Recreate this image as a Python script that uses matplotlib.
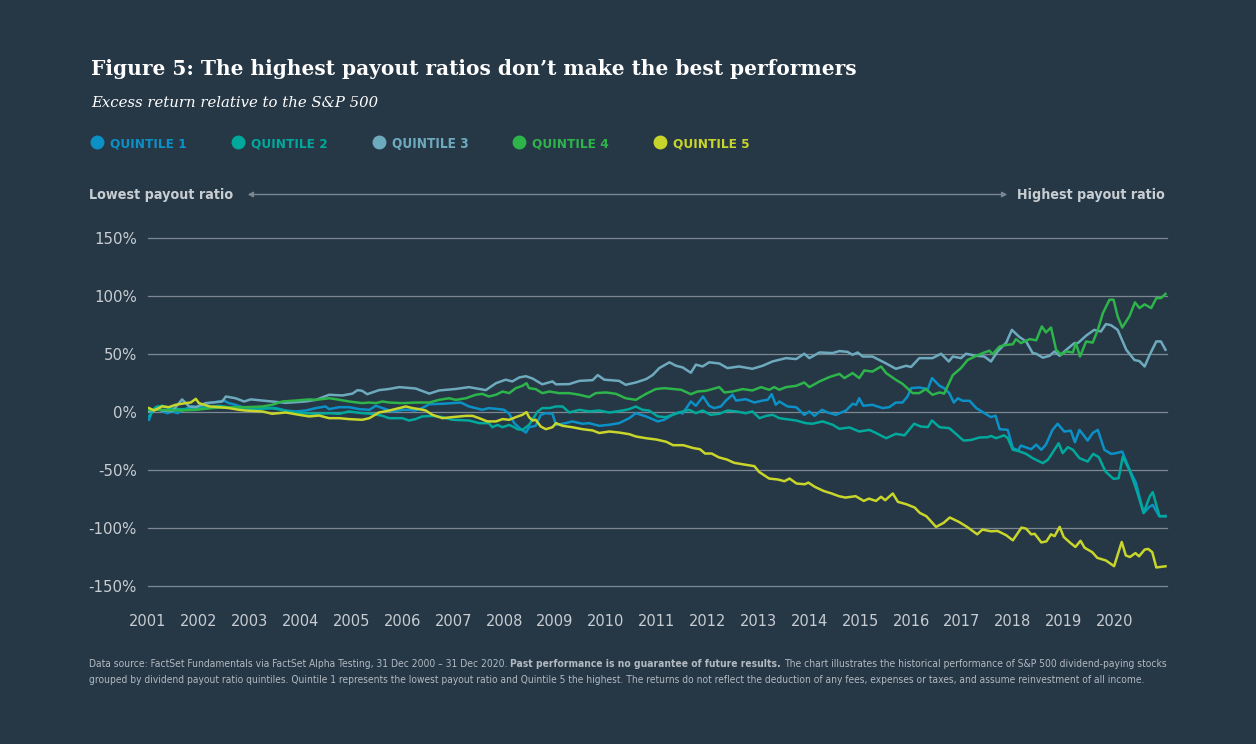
import os
import matplotlib
matplotlib.use("Agg")
import matplotlib.pyplot as plt
from matplotlib import font_manager
from matplotlib.font_manager import FontProperties
from matplotlib.patches import FancyArrowPatch
from matplotlib.lines import Line2D

# ---------------- data (excess return vs S&P 500, %) ----------------
q1_t = [2001.02,2001.08,2001.18,2001.28,2001.38,2001.48,2001.58,2001.67,2001.77,2001.87,2002.0,2002.2,2002.4,2002.49,2002.59,2002.72,2002.86,2002.99,2003.25,2003.51,2003.71,2003.9,2004.1,2004.3,2004.49,2004.56,2004.76,2004.95,2005.15,2005.35,2005.48,2005.61,2005.81,2006.0,2006.13,2006.26,2006.39,2006.53,2006.79,2006.98,2007.15,2007.31,2007.44,2007.57,2007.7,2007.9,2008.0,2008.1,2008.2,2008.33,2008.43,2008.49,2008.62,2008.72,2008.82,2008.95,2009.02,2009.21,2009.34,2009.54,2009.67,2009.87,2010.07,2010.26,2010.46,2010.59,2010.79,2011.02,2011.15,2011.31,2011.44,2011.51,2011.67,2011.77,2011.91,2012.03,2012.13,2012.26,2012.36,2012.49,2012.56,2012.75,2012.92,2013.08,2013.18,2013.26,2013.34,2013.41,2013.57,2013.74,2013.9,2014.0,2014.1,2014.25,2014.36,2014.52,2014.72,2014.85,2014.92,2014.98,2015.06,2015.24,2015.44,2015.57,2015.7,2015.83,2015.93,2016.0,2016.16,2016.33,2016.41,2016.56,2016.65,2016.75,2016.84,2016.92,2017.01,2017.15,2017.28,2017.41,2017.57,2017.66,2017.74,2017.9,2018.0,2018.1,2018.16,2018.36,2018.46,2018.56,2018.65,2018.78,2018.88,2019.01,2019.14,2019.22,2019.31,2019.47,2019.57,2019.67,2019.8,2019.93,2020.03,2020.15,2020.28,2020.42,2020.57,2020.69,2020.75,2020.88,2021.0]
q1_v = [-6.6,0.6,4.9,0.6,-0.9,0.6,-0.9,1.4,3.5,4.9,4.3,7.8,9.2,10.0,7.8,6.3,4.3,3.5,3.5,3.5,1.4,0.6,1.4,3.5,4.9,2.6,4.3,4.3,2.6,2.0,5.5,3.5,0.6,2.0,2.0,1.4,3.5,6.9,7.2,7.8,8.3,4.9,3.5,2.0,3.5,2.6,2.0,-1.4,-9.5,-14.7,-17.6,-13.0,-11.8,-2.3,-0.9,-1.4,-11.0,-9.5,-8.0,-10.0,-9.5,-11.8,-10.9,-9.5,-5.2,-0.9,-3.7,-8.0,-6.5,-2.3,0.0,-1.2,9.2,5.5,13.5,5.5,3.5,4.9,10.0,15.0,10.0,11.2,8.3,10.0,10.6,15.5,6.3,9.2,4.9,4.3,-2.3,0.6,-3.2,2.0,-0.3,-2.3,1.4,7.2,6.3,12.0,5.5,6.3,3.5,4.3,8.3,8.3,13.5,20.7,21.3,19.9,29.4,22.7,20.7,16.4,8.3,12.0,9.8,9.8,3.5,0.0,-4.3,-3.0,-14.7,-15.3,-31.0,-33.0,-28.8,-32.0,-28.0,-32.5,-28.0,-15.3,-10.0,-16.7,-16.0,-26.0,-15.3,-24.5,-18.0,-15.3,-32.5,-36.0,-35.4,-34.0,-48.3,-61.0,-87.0,-81.5,-80.0,-90.0,-89.5]

q2_t = [2001.02,2001.15,2001.28,2001.41,2001.61,2001.81,2002.0,2002.2,2002.4,2002.59,2002.79,2003.12,2003.44,2003.77,2004.03,2004.3,2004.56,2004.76,2004.95,2005.21,2005.41,2005.61,2005.74,2006.0,2006.13,2006.26,2006.39,2006.59,2006.79,2006.98,2007.31,2007.51,2007.7,2007.77,2007.87,2007.97,2008.1,2008.2,2008.26,2008.36,2008.49,2008.66,2008.75,2008.89,2009.02,2009.15,2009.28,2009.48,2009.67,2009.87,2010.07,2010.33,2010.46,2010.59,2010.72,2010.85,2011.02,2011.18,2011.31,2011.51,2011.64,2011.77,2011.9,2012.06,2012.23,2012.39,2012.56,2012.75,2012.88,2013.02,2013.15,2013.28,2013.41,2013.54,2013.74,2013.93,2014.06,2014.26,2014.46,2014.59,2014.79,2014.98,2015.18,2015.31,2015.51,2015.7,2015.87,2016.06,2016.19,2016.33,2016.41,2016.56,2016.75,2016.88,2017.03,2017.18,2017.34,2017.51,2017.57,2017.67,2017.83,2017.9,2018.0,2018.1,2018.26,2018.39,2018.59,2018.69,2018.78,2018.9,2018.98,2019.08,2019.18,2019.31,2019.47,2019.58,2019.69,2019.82,2019.98,2020.08,2020.16,2020.29,2020.42,2020.57,2020.69,2020.75,2020.88,2021.0]
q2_v = [-3.7,4.3,5.5,3.5,2.6,2.6,3.5,4.3,5.5,4.3,3.5,2.6,3.5,0.6,-0.9,-1.4,-0.9,-1.4,0.6,-0.9,-1.4,-3.2,-5.2,-5.2,-7.2,-6.0,-3.7,-3.2,-4.3,-6.6,-7.2,-9.5,-9.5,-13.0,-11.0,-13.0,-11.0,-13.0,-14.7,-15.3,-11.0,0.6,3.5,3.5,4.9,4.9,-0.3,2.0,0.6,1.4,-0.3,1.4,2.6,4.9,2.0,1.4,-3.7,-4.3,-2.3,0.6,2.0,-0.9,1.4,-2.3,-1.4,1.4,0.6,-0.9,0.6,-5.2,-3.2,-2.3,-5.2,-6.0,-7.2,-9.5,-10.0,-8.0,-10.9,-14.4,-13.2,-16.7,-15.3,-18.0,-22.5,-18.7,-20.0,-10.0,-12.4,-12.9,-7.2,-13.0,-13.8,-18.7,-24.5,-24.0,-21.9,-21.6,-20.5,-22.5,-20.0,-22.5,-32.5,-33.4,-36.0,-39.7,-44.0,-41.0,-35.0,-26.8,-35.4,-30.2,-32.5,-39.7,-42.6,-36.0,-38.9,-51.2,-57.6,-57.0,-38.3,-49.8,-65.6,-87.0,-72.8,-69.0,-89.5,-90.0]

q3_t = [2001.02,2001.15,2001.28,2001.48,2001.67,2001.81,2001.94,2002.13,2002.33,2002.46,2002.53,2002.72,2002.89,2003.02,2003.25,2003.44,2003.71,2003.9,2004.1,2004.3,2004.56,2004.82,2005.02,2005.12,2005.21,2005.31,2005.54,2005.74,2005.94,2006.26,2006.53,2006.72,2007.05,2007.31,2007.64,2007.84,2008.03,2008.16,2008.3,2008.43,2008.56,2008.75,2008.95,2009.02,2009.28,2009.48,2009.74,2009.84,2009.97,2010.26,2010.39,2010.59,2010.79,2010.92,2011.05,2011.25,2011.38,2011.51,2011.67,2011.77,2011.9,2012.03,2012.23,2012.39,2012.62,2012.88,2013.08,2013.28,2013.54,2013.74,2013.9,2014.0,2014.2,2014.46,2014.59,2014.75,2014.85,2014.95,2015.05,2015.24,2015.51,2015.7,2015.9,2016.0,2016.16,2016.42,2016.59,2016.74,2016.82,2016.98,2017.08,2017.28,2017.44,2017.57,2017.7,2017.87,2017.98,2018.13,2018.26,2018.39,2018.46,2018.59,2018.72,2018.82,2018.92,2019.05,2019.21,2019.28,2019.44,2019.6,2019.73,2019.83,2019.93,2020.06,2020.23,2020.39,2020.49,2020.59,2020.69,2020.82,2020.91,2021.0]
q3_v = [0.6,2.6,1.4,0.9,11.0,4.9,4.3,7.8,8.6,9.2,13.5,12.0,9.2,11.0,10.0,9.2,8.0,8.6,9.2,10.6,15.0,14.4,16.0,19.0,18.4,15.5,19.0,20.0,21.6,20.4,16.0,18.7,20.0,21.6,19.0,25.0,28.0,26.5,30.0,31.0,29.0,24.0,26.5,24.0,24.2,27.0,27.6,32.0,28.0,27.0,23.6,25.6,28.5,32.0,38.0,43.0,40.0,38.6,34.0,41.0,39.4,43.0,42.0,38.0,39.4,37.4,40.0,43.8,46.6,45.8,50.4,46.6,51.5,51.0,52.7,52.0,49.5,51.5,48.0,48.0,42.0,37.4,40.0,39.0,46.6,46.6,50.4,43.7,48.0,46.6,50.4,48.6,48.0,43.7,52.4,60.0,71.0,64.8,61.0,51.0,50.4,47.0,48.6,52.4,48.6,53.8,59.6,59.6,66.0,71.0,69.6,76.0,75.0,71.0,53.8,45.0,44.0,39.4,49.5,61.0,61.0,53.8]

q4_t = [2001.02,2001.28,2001.61,2001.94,2002.26,2002.59,2002.92,2003.25,2003.44,2003.64,2003.9,2004.17,2004.3,2004.56,2004.69,2004.95,2005.21,2005.35,2005.48,2005.61,2005.74,2006.0,2006.26,2006.53,2006.72,2006.92,2007.05,2007.25,2007.44,2007.57,2007.7,2007.84,2007.97,2008.1,2008.23,2008.36,2008.44,2008.49,2008.62,2008.75,2008.89,2009.08,2009.28,2009.48,2009.67,2009.8,2010.0,2010.2,2010.39,2010.59,2010.79,2010.98,2011.15,2011.48,2011.67,2011.8,2011.97,2012.23,2012.33,2012.49,2012.69,2012.88,2013.05,2013.21,2013.31,2013.41,2013.54,2013.74,2013.9,2014.0,2014.2,2014.39,2014.59,2014.69,2014.85,2014.98,2015.08,2015.24,2015.41,2015.51,2015.7,2015.83,2016.03,2016.16,2016.29,2016.42,2016.56,2016.65,2016.82,2016.98,2017.11,2017.28,2017.44,2017.54,2017.6,2017.74,2017.87,2018.0,2018.06,2018.16,2018.33,2018.46,2018.57,2018.65,2018.75,2018.85,2018.95,2019.05,2019.18,2019.24,2019.32,2019.44,2019.57,2019.67,2019.77,2019.9,2019.98,2020.06,2020.15,2020.29,2020.4,2020.49,2020.59,2020.72,2020.82,2020.91,2021.0]
q4_v = [2.0,2.0,1.4,2.0,3.5,4.3,4.3,4.9,6.3,9.2,10.0,11.0,10.6,12.0,11.2,9.2,7.8,8.3,7.8,9.2,8.3,7.8,8.3,8.3,10.6,12.0,10.6,12.0,15.0,15.8,13.5,15.0,17.8,16.4,20.7,22.7,25.0,20.7,19.9,16.4,17.8,16.4,16.4,15.0,13.0,16.4,17.0,15.8,12.0,10.6,15.8,19.9,20.7,19.3,15.5,17.8,18.4,21.6,17.0,17.8,19.9,18.7,21.6,19.3,21.6,19.3,21.6,22.7,25.6,21.6,26.5,30.2,33.0,29.4,33.7,29.4,36.0,35.0,39.4,33.7,27.9,24.5,16.4,16.4,19.9,15.0,17.0,16.0,32.0,38.0,45.0,48.6,51.5,53.0,50.0,56.7,58.0,58.6,63.0,59.6,63.0,62.0,74.0,68.8,73.0,53.8,49.5,52.4,51.5,59.6,48.0,61.0,60.0,71.0,85.5,97.0,97.0,82.6,73.0,82.6,94.7,89.8,93.0,89.8,98.4,98.4,102.0]

q5_t = [2001.02,2001.12,2001.28,2001.41,2001.54,2001.74,2001.84,2001.94,2002.0,2002.2,2002.4,2002.59,2002.79,2002.92,2003.25,2003.44,2003.71,2003.97,2004.17,2004.36,2004.56,2004.76,2004.95,2005.21,2005.35,2005.54,2005.74,2005.94,2006.07,2006.2,2006.33,2006.46,2006.59,2006.79,2006.98,2007.25,2007.38,2007.51,2007.67,2007.84,2007.97,2008.1,2008.23,2008.36,2008.44,2008.49,2008.56,2008.62,2008.72,2008.82,2008.95,2009.02,2009.15,2009.34,2009.54,2009.74,2009.87,2010.07,2010.26,2010.46,2010.59,2010.79,2010.99,2011.19,2011.32,2011.52,2011.72,2011.85,2011.95,2012.08,2012.22,2012.38,2012.52,2012.72,2012.92,2013.01,2013.21,2013.38,2013.51,2013.61,2013.75,2013.91,2013.98,2014.11,2014.28,2014.44,2014.58,2014.71,2014.91,2015.07,2015.17,2015.31,2015.41,2015.49,2015.64,2015.74,2015.91,2016.07,2016.17,2016.3,2016.49,2016.64,2016.76,2016.94,2017.1,2017.3,2017.4,2017.57,2017.7,2017.87,2018.0,2018.17,2018.26,2018.36,2018.43,2018.56,2018.66,2018.75,2018.82,2018.92,2019.0,2019.13,2019.23,2019.33,2019.41,2019.56,2019.66,2019.83,2019.99,2020.14,2020.22,2020.3,2020.41,2020.48,2020.59,2020.66,2020.74,2020.82,2021.0]
q5_v = [3.5,1.4,5.0,4.3,6.3,7.8,8.3,11.5,7.8,5.0,4.3,3.5,2.0,1.4,0.6,-1.4,-0.3,-2.3,-3.7,-2.9,-5.2,-5.2,-6.0,-6.6,-5.2,-0.3,1.4,3.5,4.9,3.5,2.6,1.4,-2.3,-5.2,-4.3,-3.2,-3.2,-5.2,-8.0,-8.0,-6.0,-6.6,-4.3,-2.3,0.0,-4.3,-7.2,-6.6,-12.4,-14.7,-13.0,-9.5,-11.8,-13.0,-14.7,-15.8,-18.0,-16.7,-17.6,-19.0,-21.0,-22.5,-23.6,-25.6,-28.5,-28.5,-31.0,-32.0,-35.7,-35.7,-39.0,-40.9,-43.7,-45.2,-46.6,-51.5,-57.3,-58.1,-59.6,-57.3,-61.6,-62.2,-60.8,-64.5,-68.0,-70.2,-72.5,-73.7,-72.5,-76.6,-74.6,-76.6,-73.0,-76.0,-70.2,-77.4,-79.5,-82.3,-86.9,-89.8,-99.0,-95.5,-90.9,-94.7,-99.0,-105.4,-101.3,-102.8,-102.5,-106.2,-110.6,-99.6,-100.5,-105.4,-105.0,-112.4,-111.5,-105.4,-107.0,-99.0,-107.7,-112.8,-116.3,-111.0,-117.0,-120.8,-125.7,-128.0,-132.9,-112.0,-123.6,-125.0,-121.6,-124.4,-118.6,-118.0,-120.8,-134.0,-133.0]

series_names = ["QUINTILE 1", "QUINTILE 2", "QUINTILE 3", "QUINTILE 4", "QUINTILE 5"]
y_ticks = [-150, -100, -50, 0, 50, 100, 150]
x_ticks = list(range(2001, 2021))

title = "Figure 5: The highest payout ratios don\u2019t make the best performers"
subtitle = "Excess return relative to the S&P 500"
left_label = "Lowest payout ratio"
right_label = "Highest payout ratio"
foot1 = [("Data source: FactSet Fundamentals via FactSet Alpha Testing, 31 Dec 2000 \u2013 31 Dec 2020.", "normal"),
         ("Past performance is no guarantee of future results.", "bold"),
         ("The chart illustrates the historical performance of S&P 500 dividend-paying stocks", "normal")]
foot2 = [("grouped by dividend payout ratio quintiles. Quintile 1 represents the lowest payout ratio and Quintile 5 the highest. The returns do not reflect the deduction of any fees, expenses or taxes, and assume reinvestment of all income.", "normal")]

# ---------------- style ----------------
BG = "#263746"
GRID = "#7d8791"
TXT = "#c8cdd2"
FOOT = "#b3bac1"
COLORS = ["#0b91c6", "#00a99c", "#6eaabd", "#2db44b", "#c8d62b"]
SERIF = "DejaVu Serif"
SANS = "DejaVu Sans"


def find_narrow():
    files = sorted({f.fname for f in font_manager.fontManager.ttflist})
    prefs = ["LiberationSansNarrow", "DejaVuSansCondensed", "NotoSans", "OpenSans", "Roboto"]
    for p in prefs:
        cand = [f for f in files if os.path.basename(f).startswith(p)
                and ("Narrow" in os.path.basename(f) or "Condensed" in os.path.basename(f))
                and "Italic" not in f and "Oblique" not in f]
        if not cand:
            continue
        reg = [f for f in cand if "Bold" not in os.path.basename(f) and "Semi" not in os.path.basename(f)
               and "Light" not in os.path.basename(f) and "Black" not in os.path.basename(f)
               and "Extra" not in os.path.basename(f) and "Medium" not in os.path.basename(f)
               and "Thin" not in os.path.basename(f)]
        bold = [f for f in cand if "Bold" in os.path.basename(f) and "Semi" not in os.path.basename(f)
                and "Extra" not in os.path.basename(f)]
        if reg:
            return reg[0], (bold[0] if bold else reg[0])
    return None, None


NREG, NBOLD = find_narrow()


def narrow_props(weight):
    if NREG is None:
        return FontProperties(family=SANS, weight=weight)
    return FontProperties(fname=NBOLD if weight == "bold" else NREG)


W, H = 1256, 744
fig = plt.figure(figsize=(W / 100, H / 100), dpi=100, facecolor=BG)
renderer = fig.canvas.get_renderer()


def fp(x, y):
    return x / W, 1 - y / H


def make_props(family, weight, style):
    if family == "narrow":
        return narrow_props(weight)
    return FontProperties(family=family, weight=weight, style=style)


def fit_line(x, y, pieces, width, family, color, ha="left", style="normal", size0=10):
    texts = []
    for s, w in pieces:
        p = make_props(family, w, style)
        p.set_size(size0)
        texts.append(fig.text(0, 0, s, fontproperties=p, color=color, va="baseline"))
    p0 = make_props(family, "normal", style)
    p0.set_size(size0)
    sp = fig.text(0, 0, "x x", fontproperties=p0)
    sp2 = fig.text(0, 0, "xx", fontproperties=p0)
    gap = sp.get_window_extent(renderer).width - sp2.get_window_extent(renderer).width
    sp.remove(); sp2.remove()
    tot = sum(t.get_window_extent(renderer).width for t in texts) + gap * (len(texts) - 1)
    size = size0 * width / tot
    for t in texts:
        t.set_fontsize(size)
    gap *= size / size0
    ws = [t.get_window_extent(renderer).width for t in texts]
    tot = sum(ws) + gap * (len(texts) - 1)
    cur = x if ha == "left" else x - tot
    for t, w in zip(texts, ws):
        t.set_position(fp(cur, y))
        cur += w + gap
    return size


# ---------------- axes ----------------
ax = fig.add_axes([148 / W, 1 - 586 / H, (1167 - 148) / W, (586 - 238.3) / H])
ax.set_facecolor(BG)
series = [(q1_t, q1_v), (q2_t, q2_v), (q3_t, q3_v), (q4_t, q4_v), (q5_t, q5_v)]
for (t, v), c in zip(series, COLORS):
    ax.plot(t, v, color=c, lw=1.8, solid_joinstyle="round", zorder=3)

ax.set_ylim(-150, 150)
ax.set_xlim(2001.0, 2021.03)
ax.set_yticks(y_ticks)
ax.set_yticklabels([f"{v}%" for v in y_ticks])
ax.set_xticks(x_ticks)
ax.set_xticklabels([str(v) for v in x_ticks])
ax.grid(axis="y", color=GRID, lw=0.9, zorder=1)
ax.grid(axis="x", visible=False)
for gl in ax.get_ygridlines():
    gl.set_clip_on(False)
for s in ax.spines.values():
    s.set_visible(False)
ax.tick_params(axis="y", length=0, pad=7.9, labelsize=10.8, labelcolor=TXT)
ax.tick_params(axis="x", length=0, pad=20.5, labelsize=10.5, labelcolor=TXT)
for lab in ax.get_xticklabels() + ax.get_yticklabels():
    lab.set_family(SANS)

# ---------------- header ----------------
fit_line(91, 75, [(title, "bold")], 767, SERIF, "white")
fit_line(91, 107, [(subtitle, "normal")], 288, SERIF, "white", style="italic")

leg_x = [97, 238, 379, 519, 660]
for xc, name, c in zip(leg_x, series_names, COLORS):
    fig.add_artist(Line2D([xc / W], [1 - 142 / H], marker="o", markersize=9,
                          color=c, transform=fig.transFigure, lw=0))
    fit_line(xc + 13, 147.5, [(name, "bold")], 76, "narrow", c)

fit_line(89, 199, [(left_label, "bold")], 143, "narrow", TXT)
fit_line(1165, 199, [(right_label, "bold")], 147, "narrow", TXT, ha="right")
arrow = FancyArrowPatch(fp(245, 194.5), fp(1010, 194.5), transform=fig.transFigure,
                        arrowstyle="<|-|>,head_length=3,head_width=1.6",
                        color="#7a8690", lw=1.0, mutation_scale=1)
fig.add_artist(arrow)

# ---------------- footnote ----------------
fit_line(89, 667, foot1, 1074, "narrow", FOOT)
fit_line(89, 683, foot2, 1053, "narrow", FOOT)

fig.savefig("out.png", dpi=100, facecolor=BG)
